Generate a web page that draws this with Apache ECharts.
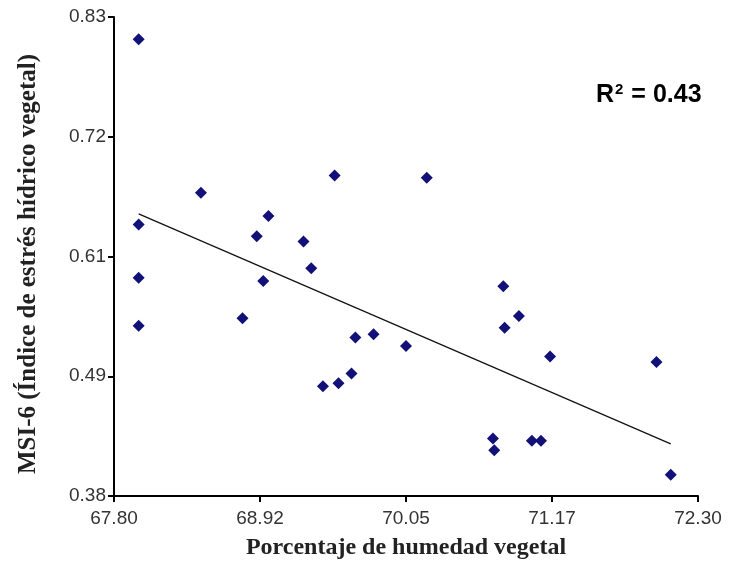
<!DOCTYPE html>
<html>
<head>
<meta charset="utf-8">
<script src="https://cdn.jsdelivr.net/npm/echarts@6/dist/echarts.min.js"></script>
<style>
  html, body { margin: 0; padding: 0; background: #fff; }
  #chart { width: 731px; height: 571px; }
</style>
</head>
<body>
<div id="chart"></div>
<script>
// Porcentaje de humedad vegetal (x) vs MSI-6 (y)
var humedad = [67.99, 68.47, 67.99, 68.99, 68.90, 69.26, 69.50, 67.99, 68.95, 69.32,
               70.21, 70.80, 67.99, 68.79, 69.66, 69.80, 69.41, 69.53, 69.63, 70.05,
               70.81, 70.92, 71.16, 71.98, 70.72, 70.73, 71.02, 71.09, 72.09];
var msi6 = [0.809, 0.665, 0.635, 0.643, 0.624, 0.619, 0.681, 0.585, 0.582, 0.594,
            0.679, 0.577, 0.540, 0.547, 0.529, 0.532, 0.483, 0.486, 0.495, 0.521,
            0.538, 0.549, 0.511, 0.506, 0.434, 0.423, 0.432, 0.432, 0.400];

// Linear trend endpoints
var trendX = [67.99, 72.09];
var trendY = [0.645, 0.429];

var xTicks = ['67.80', '68.92', '70.05', '71.17', '72.30'];
var yTicks = ['0.38', '0.49', '0.61', '0.72', '0.83'];
var r2Text = '0.43';
var yTitle = 'MSI-6 (Índice de estrés hídrico vegetal)';
var xTitle = 'Porcentaje de humedad vegetal';

var points = humedad.map(function (x, i) { return [x, msi6[i]]; });
var trend = trendX.map(function (x, i) { return [x, trendY[i]]; });

var xMin = 67.80, xMax = 72.30, xStep = (xMax - xMin) / (xTicks.length - 1);
var yMin = 0.38, yMax = 0.83, yStep = (yMax - yMin) / (yTicks.length - 1);

function tickLabel(list, min, step) {
  return function (v) {
    var i = Math.round((v - min) / step);
    return list[i] !== undefined ? list[i] : '';
  };
}

var chart = echarts.init(document.getElementById('chart'));
chart.setOption({
  backgroundColor: '#ffffff',
  animation: false,
  grid: { left: 114, right: 33, top: 17, bottom: 75, containLabel: false },
  xAxis: {
    type: 'value',
    min: xMin, max: xMax, interval: xStep,
    name: xTitle,
    nameLocation: 'middle',
    nameGap: 40,
    nameTextStyle: { fontFamily: 'Liberation Serif', fontWeight: 'bold', fontSize: 24, color: '#222' },
    axisLine: { show: true, lineStyle: { color: '#000', width: 2 } },
    axisTick: { show: true, inside: false, length: 6, lineStyle: { color: '#000', width: 2 } },
    axisLabel: { formatter: tickLabel(xTicks, xMin, xStep), margin: 13,
                 fontFamily: 'Liberation Sans', fontSize: 19, color: '#333' },
    splitLine: { show: false }
  },
  yAxis: {
    type: 'value',
    min: yMin, max: yMax, interval: yStep,
    axisLine: { show: true, lineStyle: { color: '#000', width: 2 } },
    axisTick: { show: true, inside: false, length: 6, lineStyle: { color: '#000', width: 2 } },
    axisLabel: { formatter: tickLabel(yTicks, yMin, yStep), margin: 8,
                 fontFamily: 'Liberation Sans', fontSize: 19, color: '#333' },
    splitLine: { show: false }
  },
  graphic: [
    {
      type: 'text',
      x: 29, y: 264,
      rotation: Math.PI / 2,
      style: {
        text: yTitle,
        fontFamily: 'Liberation Serif', fontWeight: 'bold', fontSize: 25,
        fill: '#222', align: 'center', verticalAlign: 'middle'
      }
    },
    {
      type: 'text',
      x: 596, y: 95,
      style: {
        text: '{b|R}{s|2}{b| = ' + r2Text + '}',
        verticalAlign: 'middle',
        rich: {
          b: { fontFamily: 'Liberation Sans', fontWeight: 'bold', fontSize: 25, fill: '#000', verticalAlign: 'bottom' },
          s: { fontFamily: 'Liberation Sans', fontWeight: 'bold', fontSize: 15, fill: '#000', verticalAlign: 'top', padding: [0, 1, 10, 1] }
        }
      }
    }
  ],
  series: [
    {
      type: 'line',
      data: trend,
      showSymbol: false,
      silent: true,
      lineStyle: { color: '#111', width: 1.2 },
      z: 1
    },
    {
      type: 'scatter',
      data: points,
      symbol: 'diamond',
      symbolSize: 12,
      itemStyle: { color: '#111177', opacity: 1 },
      z: 2
    }
  ]
});
</script>
</body>
</html>
